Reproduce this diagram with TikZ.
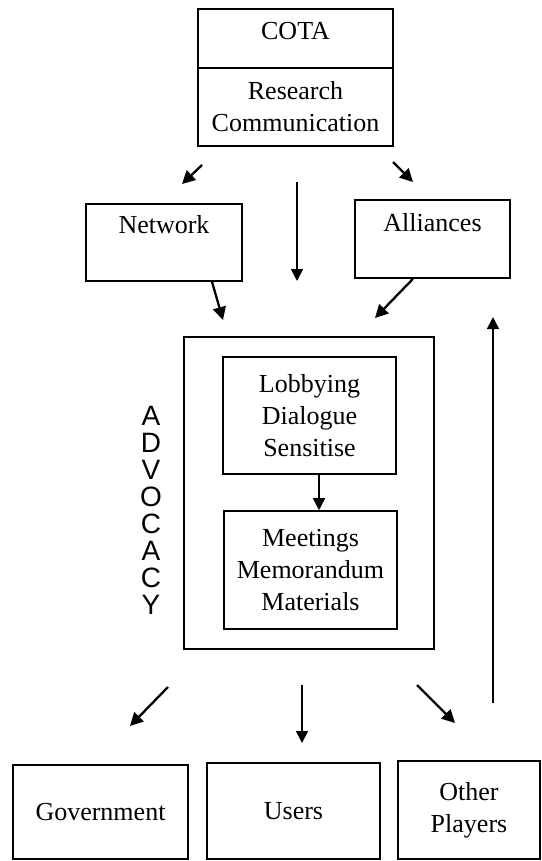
\documentclass[tikz,border=0pt]{standalone}
\usepackage{fontspec}
\setmainfont{Liberation Serif}
\newfontfamily\advfont{Liberation Sans}
\usetikzlibrary{arrows.meta}
\begin{document}
\begin{tikzpicture}[x=1pt,y=-1pt,
  box/.style={draw, line width=1.6pt, inner sep=0pt},
  lbl/.style={font=\fontsize{26}{32}\selectfont, align=center, inner sep=0pt},
  arr/.style={line width=2.3pt, -{Triangle[length=13pt,width=13pt]}},
  arrthin/.style={line width=1.6pt, -{Triangle[length=12pt,width=12pt]}},
]
\useasboundingbox (0,0) rectangle (541,861);

% top boxes
\node[box, minimum width=195pt, minimum height=59pt] (cota) at (295.5,38.5) {};
\node[lbl] (cotat) at (295.5,31) {COTA};
\node[box, lbl, minimum width=195pt, minimum height=78pt] (res) at (295.5,107) {Research\\Communication};

\node[box, minimum width=156pt, minimum height=77pt] (network) at (164,242.5) {};
\node[lbl] (networkt) at (164,225) {Network};
\node[box, minimum width=155pt, minimum height=78pt] (alliances) at (432.5,239) {};
\node[lbl] (alliancest) at (432.5,223) {Alliances};

% advocacy
\node[box, minimum width=250pt, minimum height=312pt] (adv) at (309,493) {};
\node[box, lbl, minimum width=173pt, minimum height=117pt] (lob) at (309.5,415.5) {Lobbying\\Dialogue\\Sensitise};
\node[box, lbl, minimum width=173pt, minimum height=118pt] (meet) at (310.5,570) {Meetings\\Memorandum\\Materials};
\node[font=\advfont\fontsize{28}{27}\selectfont, align=center, inner sep=0pt] (advt) at (151,510) {A\\D\\V\\O\\C\\A\\C\\Y};

% bottom boxes
\node[box, lbl, minimum width=175pt, minimum height=94pt] (gov) at (100.5,812) {Government};
\node[box, lbl, minimum width=173pt, minimum height=96pt] (users) at (293.5,811) {Users};
\node[box, lbl, minimum width=142pt, minimum height=98pt] (other) at (469,810) {Other\\Players};

% arrow end points
\coordinate (a1s) at (202,165); \coordinate (a1e) at (182,184);
\coordinate (a2s) at (297,182); \coordinate (a2e) at (297,281);
\coordinate (a3s) at (393,162); \coordinate (a3e) at (413,182);
\coordinate (a4e) at (223,320);
\coordinate (a5e) at (375,318);
\coordinate (a6s) at (168,687); \coordinate (a6e) at (130,726);
\coordinate (a7s) at (302,685); \coordinate (a7e) at (302,743);
\coordinate (a8s) at (417,685); \coordinate (a8e) at (455,723);
\coordinate (a9s) at (493,703); \coordinate (a9e) at (493,317);

\draw[arr] (a1s) -- (a1e);
\draw[arrthin] (a2s) -- (a2e);
\draw[arr] (a3s) -- (a3e);
\draw[arr] ([xshift=48pt]network.south) -- (a4e);
\draw[arr] ([xshift=-19.5pt]alliances.south) -- (a5e);
\draw[arrthin] ([xshift=9.5pt]lob.south) -- ([xshift=8.5pt]meet.north);
\draw[arr] (a6s) -- (a6e);
\draw[arrthin] (a7s) -- (a7e);
\draw[arr] (a8s) -- (a8e);
\draw[arrthin] (a9s) -- (a9e);
\end{tikzpicture}
\end{document}
